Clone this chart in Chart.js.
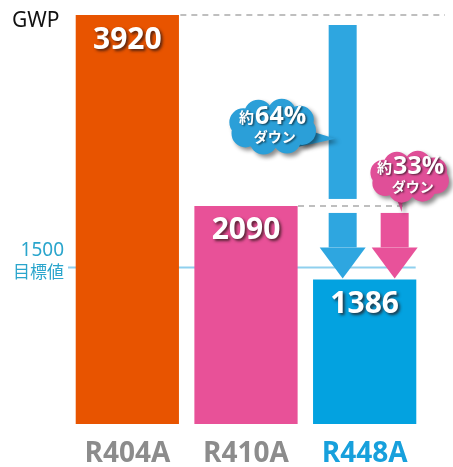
<!DOCTYPE html>
<html>
<head>
<meta charset="utf-8">
<script src="https://cdn.jsdelivr.net/npm/chart.js@4.4.0/dist/chart.umd.min.js"></script>
<style>
  html, body { margin: 0; padding: 0; background: #fff; }
  #wrap { width: 453px; height: 467px; position: relative; }
</style>
</head>
<body>
<div id="wrap"><canvas id="chart"></canvas></div>
<script>
let categories = ["R404A", "R410A", "R448A"];
let gwpValues = [3920, 2090, 1386];
let targetValue = 1500;
let targetLabel = ["1500", "目標値"];
let reductionPct = ["64%", "33%"];   // R404A -> R448A, R410A -> R448A

let barColors = ["#e85400", "#e85198", "#03a2e0"];
let tickColors = ["#8c8c8c", "#8c8c8c", "#17a0dc"];
let arrowBlue = "#2ea6e0";
let arrowPink = "#e8529a";

function drawCloud(ctx, cx, cy, w, h, color) {
    ctx.beginPath();
    ctx.ellipse(cx, cy, w * 0.42, h * 0.38, 0, 0, Math.PI * 2);
    for (let k = 0; k < 8; k++) {
        let a = k * Math.PI / 4 + 0.3;
        let bx = cx + Math.cos(a) * w * 0.32;
        let by = cy + Math.sin(a) * h * 0.26;
        ctx.moveTo(bx + h * 0.25, by);
        ctx.arc(bx, by, h * 0.25, 0, Math.PI * 2);
    }
    ctx.fillStyle = color;
    ctx.fill();
}

function bubbleText(ctx, cx, cy, pct) {
    ctx.fillStyle = "#fff";
    ctx.textBaseline = "alphabetic";
    ctx.font = "bold 15px 'Noto Sans CJK JP'";
    let w1 = ctx.measureText("約").width;
    ctx.font = "bold 25px 'Open Sans'";
    let w2 = ctx.measureText(pct).width;
    let x0 = cx - (w1 + w2 + 1) / 2;
    ctx.textAlign = "left";
    ctx.font = "bold 15px 'Noto Sans CJK JP'";
    ctx.fillText("約", x0, cy - 1);
    ctx.font = "bold 25px 'Open Sans'";
    ctx.fillText(pct, x0 + w1 + 1, cy);
    ctx.textAlign = "center";
    ctx.font = "bold 14px 'Noto Sans CJK JP'";
    ctx.fillText("ダウン", cx + 2, cy + 18);
}

function downArrow(ctx, x, y0, y1, color, gap) {
    let shaftW = 28, headW = 46, headH = 31;
    ctx.fillStyle = color;
    if (gap) {
        ctx.fillRect(x - shaftW / 2, y0, shaftW, gap[0] - y0);
        ctx.fillRect(x - shaftW / 2, gap[1], shaftW, y1 - headH - gap[1]);
    } else {
        ctx.fillRect(x - shaftW / 2, y0, shaftW, y1 - headH - y0);
    }
    ctx.beginPath();
    ctx.moveTo(x - headW / 2, y1 - headH);
    ctx.lineTo(x + headW / 2, y1 - headH);
    ctx.lineTo(x, y1);
    ctx.closePath();
    ctx.fill();
}

let gwpDecor = {
    id: "gwpDecor",
    beforeDatasetsDraw: (chart) => {
        const {ctx, scales: {x, y}} = chart;
        let ty = y.getPixelForValue(targetValue);
        ctx.save();
        ctx.strokeStyle = "#8fd0ee";
        ctx.lineWidth = 2;
        ctx.beginPath();
        ctx.moveTo(68, ty);
        ctx.lineTo(x.getPixelForValue(2) + 51, ty);
        ctx.stroke();
        ctx.restore();
    },
    afterDatasetsDraw: (chart) => {
        const {ctx, scales: {x, y}} = chart;
        ctx.save();

        // dashed reference lines
        ctx.strokeStyle = "#aaaaaa";
        ctx.lineWidth = 1.5;
        ctx.setLineDash([6, 5]);
        let top0 = y.getPixelForValue(gwpValues[0]);
        let top1 = y.getPixelForValue(gwpValues[1]);
        ctx.beginPath();
        ctx.moveTo(x.getPixelForValue(0) + 53, top0);
        ctx.lineTo(445, top0);
        ctx.moveTo(x.getPixelForValue(1) + 52, top1);
        ctx.lineTo(x.getPixelForValue(2) + 38, top1);
        ctx.stroke();
        ctx.setLineDash([]);

        // arrows
        let top2 = y.getPixelForValue(gwpValues[2]);
        let bx = x.getPixelForValue(2) - 22;
        let px = x.getPixelForValue(2) + 30;
        downArrow(ctx, bx, top0 + 10, top2 - 1, arrowBlue, [top1 - 7, top1 + 7]);
        downArrow(ctx, px, top1 + 7, top2 - 1, arrowPink);

        // value labels
        ctx.shadowColor = "rgba(40,20,20,0.75)";
        ctx.shadowOffsetX = 2;
        ctx.shadowOffsetY = 2;
        ctx.shadowBlur = 3;
        ctx.fillStyle = "#fff";
        ctx.font = "bold 30px 'Open Sans'";
        ctx.textAlign = "center";
        ctx.textBaseline = "middle";
        gwpValues.forEach((v, i) => {
            ctx.fillText(String(v), x.getPixelForValue(i), y.getPixelForValue(v) + 25);
        });

        // bubbles
        let c1x = bx - 70, c1y = y.getPixelForValue(2850);
        ctx.shadowColor = "rgba(0,0,0,0.45)";
        ctx.shadowOffsetX = 3;
        ctx.shadowOffsetY = 3;
        ctx.shadowBlur = 4;
        ctx.fillStyle = "#2b9fd8";
        ctx.beginPath();
        ctx.moveTo(c1x + 30, c1y + 2);
        ctx.lineTo(bx - 7, c1y + 12);
        ctx.lineTo(c1x + 26, c1y + 20);
        ctx.closePath();
        ctx.fill();
        drawCloud(ctx, c1x, c1y, 96, 56, "#2b9fd8");

        let c2x = px + 15, c2y = y.getPixelForValue(2370);
        ctx.fillStyle = "#e04f98";
        ctx.beginPath();
        ctx.moveTo(px - 1, c2y + 14);
        ctx.lineTo(px + 9, c2y + 14);
        ctx.lineTo(px + 7, top1 + 6);
        ctx.closePath();
        ctx.fill();
        drawCloud(ctx, c2x, c2y, 86, 52, "#e04f98");

        ctx.shadowColor = "rgba(0,0,0,0.6)";
        ctx.shadowOffsetX = 1.5;
        ctx.shadowOffsetY = 1.5;
        ctx.shadowBlur = 2;
        bubbleText(ctx, c1x, c1y - 3, reductionPct[0]);
        bubbleText(ctx, c2x + 1, c2y - 3, reductionPct[1]);
        ctx.restore();

        // axis texts
        ctx.save();
        ctx.fillStyle = "#111";
        ctx.font = "21px 'Noto Sans'";
        ctx.textAlign = "left";
        ctx.textBaseline = "middle";
        ctx.fillText("GWP", 12, 21);
        let ty = y.getPixelForValue(targetValue);
        ctx.fillStyle = "#2aa5cc";
        ctx.textAlign = "right";
        ctx.font = "19px 'Noto Sans'";
        ctx.fillText(targetLabel[0], 64, ty - 17);
        ctx.font = "17px 'Noto Sans CJK JP'";
        ctx.fillText(targetLabel[1], 64, ty + 4);
        ctx.restore();
    }
};

let ctxEl = document.getElementById("chart");
new Chart(ctxEl, {
    type: "bar",
    data: {
        labels: categories,
        datasets: [{
            data: gwpValues,
            backgroundColor: barColors,
            borderWidth: 0,
            barPercentage: 0.87,
            categoryPercentage: 1.0,
        }],
    },
    options: {
        responsive: true,
        maintainAspectRatio: false,
        animation: false,
        layout: {
            padding: { left: 68, right: 29, top: 15, bottom: -17 },
        },
        plugins: {
            legend: { display: false },
            tooltip: { enabled: false },
        },
        scales: {
            y: {
                display: false,
                min: 0,
                max: 3920,
            },
            x: {
                grid: { display: false, drawTicks: false },
                border: { display: false },
                ticks: {
                    padding: 16,
                    color: (c) => tickColors[c.index],
                    font: { family: "'Open Sans'", weight: "bold", size: 28, lineHeight: 1 },
                },
            },
        },
    },
    plugins: [gwpDecor],
});
</script>
</body>
</html>
